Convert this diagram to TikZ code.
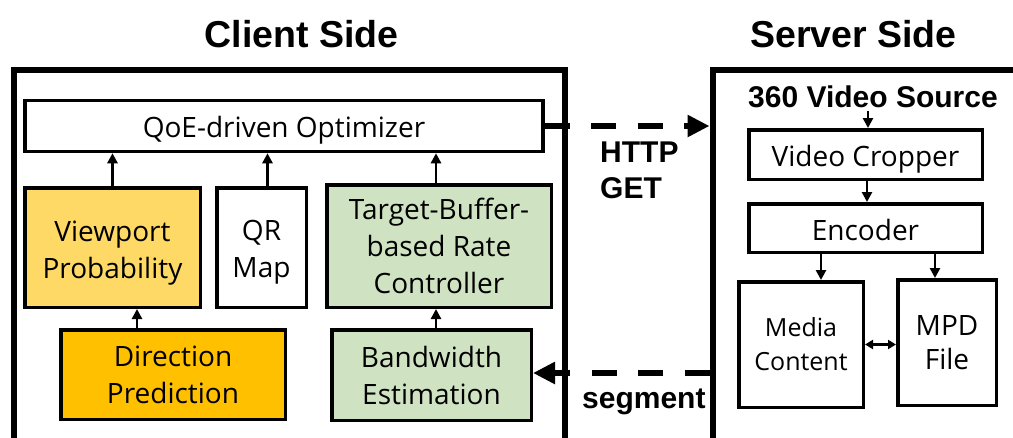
\documentclass[tikz,border=0pt]{standalone}
\usepackage{fontspec}
\setmainfont{Open Sans}
\newfontfamily\lib{Liberation Sans}
\usetikzlibrary{arrows.meta}
\definecolor{vpY}{HTML}{FFD966}
\definecolor{dirO}{HTML}{FFC000}
\definecolor{grn}{HTML}{CFE3C2}
\newcommand{\lowby}[1]{\rule{0pt}{#1}}
\begin{document}
\begin{tikzpicture}[x=1pt,y=-1pt,
  box/.style={draw, line width=3.5pt, inner sep=0pt, align=center,
    font=\fontsize{28}{37}\selectfont},
  arr/.style={line width=2.5pt, -{Triangle[length=10pt,width=10pt]}},
  darr/.style={line width=6.5pt, dash pattern=on 25pt off 21.5pt,
    -{Triangle[length=22pt,width=21pt]}},
  boldlbl/.style={font=\lib\bfseries\fontsize{30}{36}\selectfont, inner sep=0pt, align=left},
  titlelbl/.style={font=\lib\bfseries\fontsize{37.5}{40}\selectfont, inner sep=0pt},
  frameline/.style={line width=6pt, line join=miter}]
\useasboundingbox (0,0) rectangle (1013,437);

% titles
\node[titlelbl, anchor=base] (ct) at (301.5,47) {Client Side};
\node[titlelbl, anchor=base] (st) at (853.5,47) {Server Side};

% frames
\coordinate (cTL) at (14,70);
\coordinate (cTR) at (564.5,70);
\coordinate (sTL) at (712.5,70);
\draw[frameline] (14,440) -- (cTL) -- (cTR) -- (564.5,440);
\draw[frameline] (712.5,440) -- (sTL) -- (1020,70);

% client nodes
\node[box, minimum width=518pt, minimum height=51pt] (qoe) at (284,126) {\lowby{29.5pt}QoE-driven Optimizer};
\node[box, fill=vpY, minimum width=175.5pt, minimum height=119.5pt] (vp) at (112.5,247.5) {\lowby{31pt}Viewport\\Probability};
\node[box, fill=white, minimum width=89.5pt, minimum height=119.5pt] (qr) at (261.5,247.5) {\lowby{30.5pt}QR\\Map};
\node[box, fill=grn, minimum width=224.5pt, minimum height=122.5pt] (tb) at (439,246) {Target-Buffer-\\based Rate\\Controller};
\node[box, fill=dirO, minimum width=224.5pt, minimum height=89.5pt] (dir) at (173,374.5) {Direction\\Prediction};
\node[box, fill=grn, minimum width=199.5pt, minimum height=90.5pt] (bw) at (431.5,375) {Bandwidth\\Estimation};

\draw[arr] (vp.north) -- (vp.north |- qoe.south);
\draw[arr] ([xshift=6pt]qr.north) -- ([xshift=6pt]qr.north |- qoe.south);
\draw[arr] ([xshift=-3pt]tb.north) -- ([xshift=-3pt]tb.north |- qoe.south);
\draw[arr] ([xshift=-36pt]dir.north) -- ([xshift=-36pt]dir.north |- vp.south);
\draw[arr] ([xshift=4.5pt]bw.north) -- ([xshift=4.5pt]bw.north |- tb.south);

% server nodes
\node[boldlbl, anchor=base west] (src) at (748,107) {360 Video Source};
\node[box, minimum width=233.5pt, minimum height=49.5pt] (crop) at (865.5,154.5) {\lowby{31pt}Video Cropper};
\node[box, minimum width=233.5pt, minimum height=48.5pt] (enc) at (865.5,228) {\lowby{25.5pt}Encoder};
\node[box, minimum width=124.5pt, minimum height=125.5pt, font=\fontsize{25}{34}\selectfont] (media) at (801,344.5) {Media\\Content};
\node[box, minimum width=98.5pt, minimum height=125.5pt, font=\fontsize{28}{34}\selectfont] (mpd) at (947,342.5) {MPD\\File};

\draw[arr] ([xshift=2.5pt,yshift=-3pt]crop.north |- src.south) -- ([xshift=2.5pt]crop.north);
\draw[arr] ([xshift=1.5pt]crop.south) -- ([xshift=1.5pt]enc.north);
\draw[arr] ([xshift=20pt]media.north |- enc.south) -- ([xshift=20pt]media.north);
\draw[arr] ([xshift=-12pt]mpd.north |- enc.south) -- ([xshift=-12pt]mpd.north);
\draw[line width=2.5pt, {Triangle[length=8pt,width=9pt]}-{Triangle[length=8pt,width=9pt]}] (media.east) -- (media.east -| mpd.west);

% communication
\draw[darr, shorten >=3pt] (qoe.east) -- (qoe.east -| sTL);
\draw[darr, shorten <=3pt] ([yshift=2pt]bw.east -| sTL) -- ([yshift=2pt]bw.east);
\node[boldlbl, anchor=north west] (http) at (600,142) {HTTP\\GET};
\node[boldlbl, anchor=base west] (seg) at (582,408) {segment};
\end{tikzpicture}
\end{document}
